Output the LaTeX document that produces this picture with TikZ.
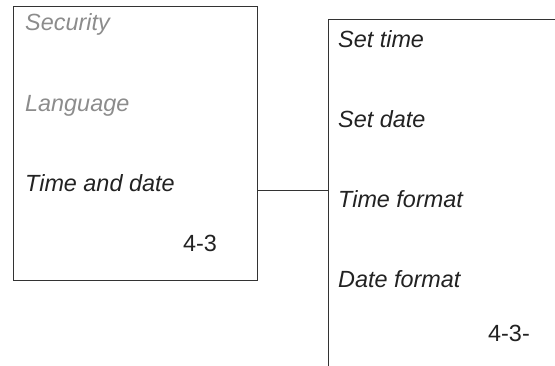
\documentclass[tikz,border=0pt]{standalone}
\usepackage{fontspec}
\setmainfont{Liberation Sans}
\usetikzlibrary{positioning,calc}
\definecolor{edge}{HTML}{333333}
\definecolor{dimtext}{HTML}{8C8C8C}
\definecolor{inktext}{HTML}{222222}

\begin{document}
\begin{tikzpicture}[x=1pt,y=-1pt]
\tikzset{menubox/.style={draw=edge,line width=0.9pt,inner sep=0pt},
  entry/.style={anchor=base west,inner sep=0pt,font=\fontsize{23.4}{28}\selectfont\itshape,text=inktext},
  greyed/.style={entry,text=dimtext},
  pageno/.style={anchor=base,inner sep=0pt,font=\fontsize{23.4}{28}\selectfont,text=inktext}}
\useasboundingbox (0,0) rectangle (555,366);
\clip (0,0) rectangle (555,366);
\node[menubox,minimum width=244pt,minimum height=274pt] (menu) at (135,143) {};
\node[menubox,minimum width=272pt,minimum height=381pt] (sub) at (464,209.5) {};
% left menu
\node[greyed] (security) at (25,31) {Security};
\node[greyed] (language) at (25,112) {Language};
\node[entry] (timedate) at (25,192) {Time and date};
\node[pageno] (menuno) at (200,252) {4-3};
% sub menu
\node[entry] (settime) at (338,48) {Set time};
\node[entry] (setdate) at (338,128) {Set date};
\node[entry] (timefmt) at (338,208) {Time format};
\node[entry] (datefmt) at (338,288) {Date format};
\node[pageno] (subno) at (509,342) {4-3-};
\coordinate (link) at (0,190.5);
\draw[edge,line width=0.9pt] (link -| menu.east) -- (link -| sub.west);
\end{tikzpicture}
\end{document}
